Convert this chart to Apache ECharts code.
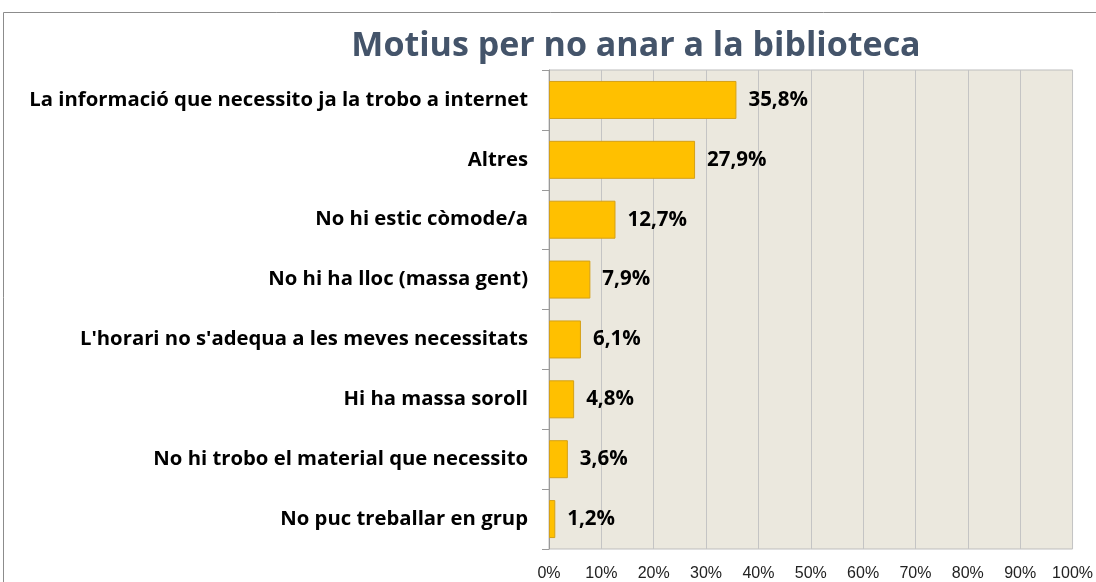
<!DOCTYPE html>
<html><head><meta charset="utf-8">
<script src="https://cdn.jsdelivr.net/npm/echarts@6/dist/echarts.min.js"></script>
<style>html,body{margin:0;padding:0;background:#fff}#c{width:1096px;height:582px}</style>
</head><body><div id="c"></div>
<script>
const titleText = "Motius per no anar a la biblioteca";
const categories = [
  "La informació que necessito ja la trobo a internet",
  "Altres",
  "No hi estic còmode/a",
  "No hi ha lloc (massa gent)",
  "L'horari no s'adequa a les meves necessitats",
  "Hi ha massa soroll",
  "No hi trobo el material que necessito",
  "No puc treballar en grup"
];
const values = [35.8, 27.9, 12.7, 7.9, 6.1, 4.8, 3.6, 1.2];
const xTicks = [0,10,20,30,40,50,60,70,80,90,100];

const chart = echarts.init(document.getElementById('c'));
chart.setOption({
  animation: false,
  backgroundColor: '#fff',
  title: {
    text: titleText, left: 631, top: 24, textAlign: 'center',
    textStyle: {fontFamily: 'Open Sans', fontWeight: 'bold', fontSize: 34, color: '#44546A'}
  },
  graphic: [{type:'rect', shape:{x:3.5,y:12.5,width:1200,height:700}, style:{fill:'none', stroke:'#8c8c8c', lineWidth:1}, silent:true}],
  grid: {left: 549, right: 21, top: 70, bottom: 32, show: true, backgroundColor: '#EBE8DE', borderColor: '#BDBDBD', borderWidth: 1},
  xAxis: {
    type: 'value', min: 0, max: 100, interval: 10,
    axisLabel: {formatter: v => v + '%', fontFamily: 'Liberation Sans', fontSize: 16, color: '#222', margin: 17},
    axisLine: {show: false}, axisTick: {show: false},
    splitLine: {show: true, lineStyle: {color: '#C4C4C4', width: 1}}
  },
  yAxis: {
    type: 'category', data: categories, inverse: true,
    axisLine: {show: true, lineStyle: {color: '#9a9a9a'}},
    axisTick: {show: true, length: 7, lineStyle: {color: '#9a9a9a'}},
    axisLabel: {fontFamily: 'Open Sans', fontWeight: 'bold', fontSize: 20.3, color: '#000', margin: 21}
  },
  series: [{
    type: 'bar', data: values, barWidth: 38,
    itemStyle: {color: '#FFC000', borderColor: '#D4A017', borderWidth: 1},
    label: {show: true, position: 'right', distance: 12, formatter: p => p.value.toFixed(1).replace('.', ',') + '%',
      fontFamily: 'Open Sans', fontWeight: 'bold', fontSize: 20.5, color: '#000'}
  }]
});
</script></body></html>
